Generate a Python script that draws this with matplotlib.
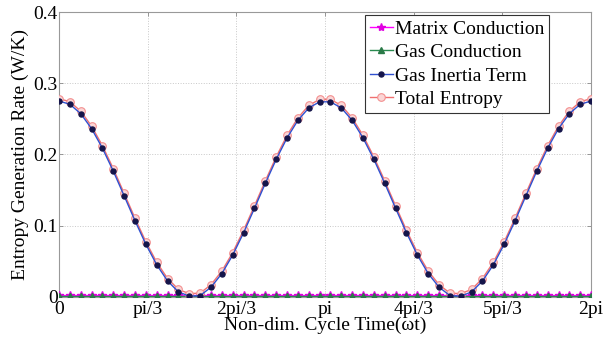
import matplotlib
matplotlib.use("Agg")
import matplotlib.pyplot as plt
import numpy as np

plt.rcParams['font.family'] = ['Liberation Serif', 'DejaVu Serif']

# sample points over one cycle (50 samples from 0 to 2pi)
n_pts = 50
omega_t = np.linspace(0, 2 * np.pi, n_pts)

# first half of the gas inertia curve, second half mirrors it
inertia_half = [0.275, 0.2705, 0.2573, 0.2363, 0.2088, 0.1766, 0.1419, 0.1069,
                0.0739, 0.0451, 0.0223, 0.0070, 0.0010, 0.0018, 0.0136, 0.0328,
                0.0588, 0.0900, 0.1243, 0.1594, 0.1930, 0.2232, 0.2479, 0.2653,
                0.2739]
gas_inertia = inertia_half + inertia_half[::-1]
total_entropy = [v + 0.0035 for v in gas_inertia]
matrix_conduction = [0.002] * n_pts
gas_conduction = [0.0006] * n_pts

x_ticks = [0, np.pi / 3, 2 * np.pi / 3, np.pi, 4 * np.pi / 3, 5 * np.pi / 3, 2 * np.pi]
x_tick_labels = ['0', 'pi/3', '2pi/3', 'pi', '4pi/3', '5pi/3', '2pi']
y_ticks = [0, 0.1, 0.2, 0.3, 0.4]
y_tick_labels = ['0', '0.1', '0.2', '0.3', '0.4']

fig = plt.figure(figsize=(6.05, 3.44), dpi=100)
ax = fig.add_axes([0.0975, 0.137, 0.8795, 0.828])

ax.plot(omega_t, matrix_conduction, color='#ff00ff', lw=1.0, marker='*',
        ms=6, mfc='#e000e0', mec='#e000e0', label='Matrix Conduction', zorder=3)
ax.plot(omega_t, gas_conduction, color='#2a8a50', lw=1.0, marker='^',
        ms=4.5, mfc='#2a7a48', mec='#2a7a48', label='Gas Conduction', zorder=3)
ax.plot(omega_t, gas_inertia, color='#3050d0', lw=1.0, marker='o',
        ms=3.6, mfc='#15154a', mec='#15154a', label='Gas Inertia Term', zorder=4)
ax.plot(omega_t, total_entropy, color='#f07070', lw=1.0, marker='o',
        ms=5.5, mfc='#fbd6d6', mec='#f39090', mew=0.8, label='Total Entropy',
        zorder=3)

ax.set_xlim(0, 2 * np.pi)
ax.set_ylim(0, 0.4)
ax.set_xticks(x_ticks)
ax.set_xticklabels(x_tick_labels)
ax.set_yticks(y_ticks)
ax.set_yticklabels(y_tick_labels)
ax.tick_params(direction='in', top=True, right=True, length=3, width=0.6,
               color='#888888', labelsize=14, pad=1)
ax.tick_params(axis='x', pad=3)
ax.grid(True, linestyle=':', color='#c8c8c8', linewidth=0.7)
for sp in ax.spines.values():
    sp.set_color('#999999')
    sp.set_linewidth(0.8)

ax.set_xlabel('Non-dim. Cycle Time(ωt)', fontsize=14, labelpad=-1)
ax.set_ylabel('Entropy Generation Rate (W/K)', fontsize=14, labelpad=3)

leg = ax.legend(loc='upper right', bbox_to_anchor=(0.921, 0.989),
                borderaxespad=0, fontsize=14, handlelength=1.2,
                handletextpad=0.1, borderpad=0.25, labelspacing=0.3,
                fancybox=False, framealpha=1)
leg.get_frame().set_edgecolor('#333333')
leg.get_frame().set_linewidth(0.8)

fig.savefig('out.png', dpi=100)
